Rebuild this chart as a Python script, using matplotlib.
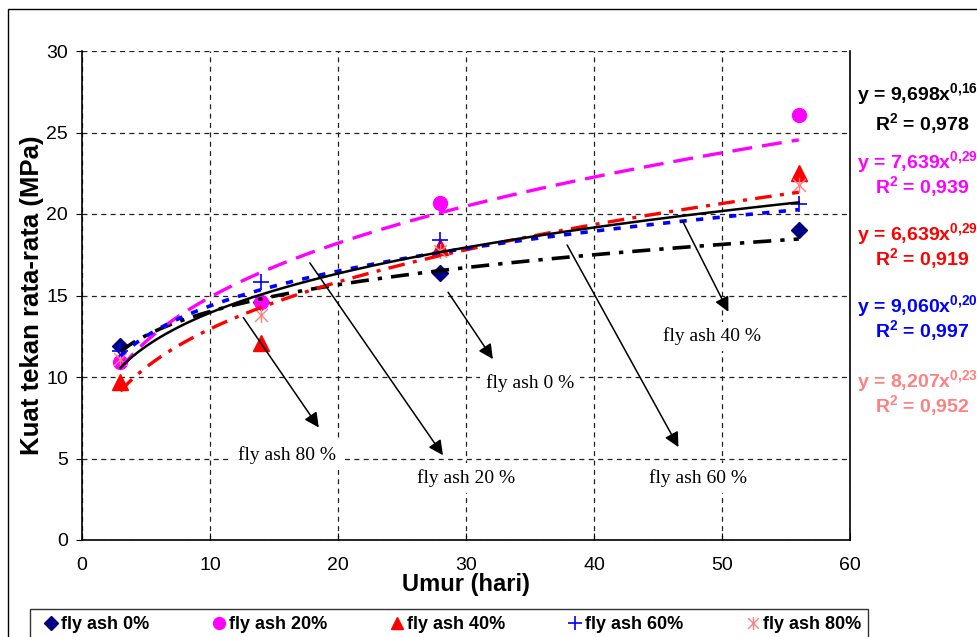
import numpy as np
import matplotlib
matplotlib.use("Agg")
import matplotlib.pyplot as plt
from matplotlib.path import Path
from matplotlib.patches import Rectangle

plt.rcParams["font.family"] = ["Liberation Sans", "DejaVu Sans"]
plt.rcParams["mathtext.fontset"] = "custom"
plt.rcParams["mathtext.rm"] = "Liberation Sans:bold"
plt.rcParams["mathtext.bf"] = "Liberation Sans:bold"

# umur benda uji (hari)
days = [3, 14, 28, 56]

# kuat tekan rata-rata (MPa) tiap kadar fly ash
fa0 = [11.9, 14.6, 16.4, 19.0]
fa20 = [10.9, 14.6, 20.7, 26.1]
fa40 = [9.7, 12.1, 18.0, 22.5]
fa60 = [11.6, 15.8, 18.4, 20.6]
fa80 = [11.1, 13.8, 17.7, 21.8]

labels = ["fly ash 0%", "fly ash 20%", "fly ash 40%", "fly ash 60%", "fly ash 80%"]

# power trendlines y = a x^b as printed on the chart
coef_a = [9.698, 7.639, 6.639, 9.060, 8.207]
coef_b = [0.16, 0.29, 0.29, 0.20, 0.23]
a_txt = ["9,698", "7,639", "6,639", "9,060", "8,207"]
b_txt = ["0,16", "0,29", "0,29", "0,20", "0,23"]
r2_txt = ["0,978", "0,939", "0,919", "0,997", "0,952"]
eq_colors = ["black", "#FF00FF", "#FF0000", "#0000FF", "#FF8080"]

# arrow annotations: (text, text pos, arrow start, arrow tip)
notes = [
    ("fly ash 80 %", (16.0, 5.2), (12.6, 13.65), (18.5, 6.9)),
    ("fly ash 20 %", (30.0, 3.8), (17.8, 17.0), (28.2, 5.2)),
    ("fly ash 0 %", (35.0, 9.6), (28.6, 15.2), (32.1, 11.1)),
    ("fly ash 60 %", (48.1, 3.8), (37.9, 18.1), (46.6, 5.7)),
    ("fly ash 40 %", (49.2, 12.5), (46.9, 19.6), (50.5, 14.0)),
]

# Excel style "star" marker: an X with a vertical bar
star = Path(
    [(-1, -1), (1, 1), (-1, 1), (1, -1), (0, -1.2), (0, 1.2)],
    [Path.MOVETO, Path.LINETO, Path.MOVETO, Path.LINETO, Path.MOVETO, Path.LINETO],
)

fig = plt.figure(figsize=(9.77, 6.37), dpi=100)
ax = fig.add_axes([82 / 977, 1 - 540 / 637, 768 / 977, 489 / 637])

series = [fa0, fa20, fa40, fa60, fa80]
mstyles = [
    dict(marker="D", color="#000080", ms=8, ls="none"),
    dict(marker="o", color="#FF00FF", ms=10, ls="none"),
    dict(marker="^", color="#FF0000", ms=11, ls="none"),
    dict(marker="+", color="#0000FF", ms=12, mew=1.2, ls="none"),
    dict(marker=star, color="#FF8080", ms=11, mew=1.0, fillstyle="none", ls="none"),
]
handles = []
for vals, st, lab in zip(series, mstyles, labels):
    (h,) = ax.plot(days, vals, label=lab, zorder=3, **st)
    handles.append(h)

xs = np.linspace(days[0], days[-1], 120)
lstyles = [
    dict(color="black", lw=2.6, dashes=(5, 2.5, 1.2, 2.5)),
    dict(color="#FF00FF", lw=2.4, dashes=(6, 3)),
    dict(color="#FF0000", lw=2.4, dashes=(5, 2.5, 1.2, 2.5)),
    dict(color="#0000FF", lw=2.6, dashes=(2, 2.6)),
    dict(color="black", lw=1.8),
]
for a, b, st in zip(coef_a, coef_b, lstyles):
    ax.plot(xs, a * xs ** b, zorder=4, **st)

for txt, tpos, start, tip in notes:
    ax.annotate("", xy=tip, xytext=start,
                arrowprops=dict(arrowstyle="-|>", color="black", lw=1.1,
                                mutation_scale=22, shrinkA=0, shrinkB=0),
                zorder=5)
    ax.text(tpos[0], tpos[1], txt, ha="center", va="center", fontsize=14,
            family="Liberation Serif", zorder=2,
            bbox=dict(fc="white", ec="none", pad=4))

ax.set_xlim(0, 60)
ax.set_ylim(0, 30)
ax.set_xticks(range(0, 61, 10))
ax.set_yticks(range(0, 31, 5))
ax.grid(True, color="#222222", lw=0.9, ls=(0, (4, 3.5)), zorder=0)
ax.spines["top"].set_visible(False)
for s in ["left", "bottom", "right"]:
    ax.spines[s].set_linewidth(1.2)
ax.tick_params(axis="x", direction="in", length=5, pad=12, labelsize=14, top=False)
ax.tick_params(axis="y", direction="out", length=4, pad=6, labelsize=14, right=False)
ax.set_xlabel("Umur (hari)", fontsize=17, fontweight="bold", labelpad=-0.5)
ax.set_ylabel("Kuat tekan rata-rata (MPa)", fontsize=18.5, fontweight="bold", labelpad=2)

eq_y = [101, 169, 241, 313, 388]
r2_y = [131, 194, 266, 338, 413]
for i in range(5):
    fig.text(857 / 977, 1 - eq_y[i] / 637,
             "y = " + a_txt[i] + "x" + r"$^{\mathbf{" + b_txt[i].replace(",", "{,}") + "}}$",
             color=eq_colors[i], fontsize=14, fontweight="bold", va="baseline")
    fig.text(875 / 977, 1 - r2_y[i] / 637,
             r"R$^{\mathbf{2}}$ = " + r2_txt[i],
             color=eq_colors[i], fontsize=14, fontweight="bold", va="baseline")

leg = fig.legend(handles=handles, loc="upper left", ncol=5, mode="expand",
                 bbox_to_anchor=(30 / 977, 0, 838 / 977, 1 - 609 / 637),
                 prop=dict(weight="bold", size=13), frameon=True, fancybox=False,
                 edgecolor="black", handlelength=1.5, handletextpad=-0.2,
                 borderpad=0.4, borderaxespad=0, markerscale=0.85)
leg.get_frame().set_linewidth(1.0)

# outer chart-area border (left and top edges visible)
fig.patches.append(Rectangle((8 / 977, -0.5), 2.0, 0.5 + 628 / 637,
                             transform=fig.transFigure, fill=False,
                             ec="black", lw=1.0))

fig.savefig("out.png", dpi=100)
